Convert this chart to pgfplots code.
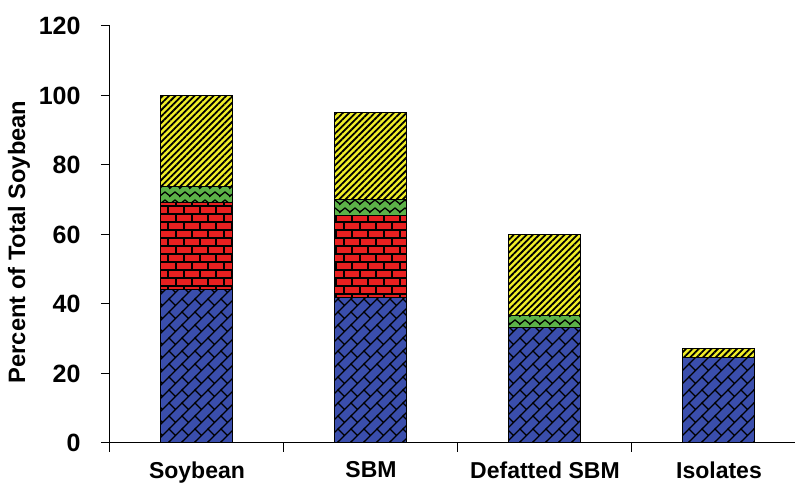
\documentclass[border=0pt]{standalone}
\usepackage{pgfplots}
\pgfplotsset{compat=1.18}
\usepackage{pgfplotstable}
\usepackage{fontspec}
\setmainfont{Liberation Sans}
\usetikzlibrary{patterns,patterns.meta}
\definecolor{cblue}{RGB}{58,78,172}
\definecolor{cred}{RGB}{232,32,32}
\definecolor{cgreen}{RGB}{92,178,72}
\definecolor{cyellow}{RGB}{240,238,40}

\pgfdeclarepatternformonly{weave}{\pgfpoint{-1pt}{-1pt}}{\pgfpoint{14pt}{14pt}}{\pgfpoint{13pt}{13pt}}{%
  \pgfsetlinewidth{1.3pt}%
  \pgfpathmoveto{\pgfpoint{-1pt}{-1pt}}\pgfpathlineto{\pgfpoint{14pt}{14pt}}%
  \pgfpathmoveto{\pgfpoint{0pt}{13pt}}\pgfpathlineto{\pgfpoint{6.5pt}{6.5pt}}%
  \pgfusepath{stroke}}
\pgfdeclarepatternformonly{mybricks}{\pgfpoint{-1pt}{-1pt}}{\pgfpoint{17pt}{17pt}}{\pgfpoint{16pt}{16pt}}{%
  \pgfsetlinewidth{1.6pt}%
  \pgfpathmoveto{\pgfpoint{-1pt}{0pt}}\pgfpathlineto{\pgfpoint{17pt}{0pt}}%
  \pgfpathmoveto{\pgfpoint{-1pt}{8pt}}\pgfpathlineto{\pgfpoint{17pt}{8pt}}%
  \pgfpathmoveto{\pgfpoint{0pt}{0pt}}\pgfpathlineto{\pgfpoint{0pt}{8pt}}%
  \pgfpathmoveto{\pgfpoint{8pt}{8pt}}\pgfpathlineto{\pgfpoint{8pt}{16pt}}%
  \pgfusepath{stroke}}
\pgfdeclarepatternformonly{zigzag}{\pgfpoint{-1pt}{-1pt}}{\pgfpoint{11pt}{9pt}}{\pgfpoint{10pt}{8pt}}{%
  \pgfsetlinewidth{1.3pt}%
  \pgfpathmoveto{\pgfpoint{-1pt}{1pt}}\pgfpathlineto{\pgfpoint{0pt}{2pt}}\pgfpathlineto{\pgfpoint{5pt}{6pt}}\pgfpathlineto{\pgfpoint{10pt}{2pt}}\pgfpathlineto{\pgfpoint{11pt}{3pt}}%
  \pgfusepath{stroke}}

\pgfplotstableread{
x blue red green yellow
0 44.3 24.8 4.6 26.3
1 42.0 23.6 4.6 24.8
2 33.1 0 3.7 23.1
3 24.7 0 0 2.6
}\datatable

\begin{document}
\begin{tikzpicture}
\useasboundingbox (-110pt,-51pt) rectangle (685pt,443pt);
\begin{axis}[
  at={(0,0)}, anchor=south west, scale only axis,
  width=685pt, height=417pt,
  xmin=-0.5, xmax=3.437, ymin=0, ymax=120,
  axis x line*=bottom, axis y line*=left,
  axis line style={line width=1pt},
  ytick={0,20,...,120},
  xtick={-0.5,0.5,1.5,2.5}, xticklabels={},
  extra x ticks={0,1,2,3},
  extra x tick labels={Soybean,SBM,Defatted SBM,Isolates},
  extra x tick style={major tick length=0pt, xticklabel style={font=\bfseries\fontsize{23}{23}\selectfont, yshift=-15pt}},
  tick align=outside, major tick length=9pt,
  tick style={black, line width=1pt},
  /pgf/number format/assume math mode=true,
  yticklabel style={font=\bfseries\fontsize{25}{25}\selectfont, xshift=-17pt},
  ylabel={Percent of Total Soybean},
  every axis y label/.style={at={(axis description cs:-0.1328,0.482)}, rotate=90, anchor=center, font=\bfseries\fontsize{23.7}{24}\selectfont},
  ybar stacked, bar width=72pt,
  clip=false,
]
\addplot[ybar stacked, draw=black, line width=1pt, fill=cblue, postaction={pattern=weave}] table[x=x,y=blue]{\datatable};
\addplot[ybar stacked, draw=black, line width=1pt, fill=cred, postaction={pattern=mybricks}] table[x=x,y=red]{\datatable};
\addplot[ybar stacked, draw=black, line width=1pt, fill=cgreen, postaction={pattern=zigzag}] table[x=x,y=green]{\datatable};
\addplot[ybar stacked, draw=black, line width=1pt, fill=cyellow, postaction={pattern={Lines[angle=45,distance=4.5pt,line width=1.8pt]}}] table[x=x,y=yellow]{\datatable};
\end{axis}
\end{tikzpicture}
\end{document}
